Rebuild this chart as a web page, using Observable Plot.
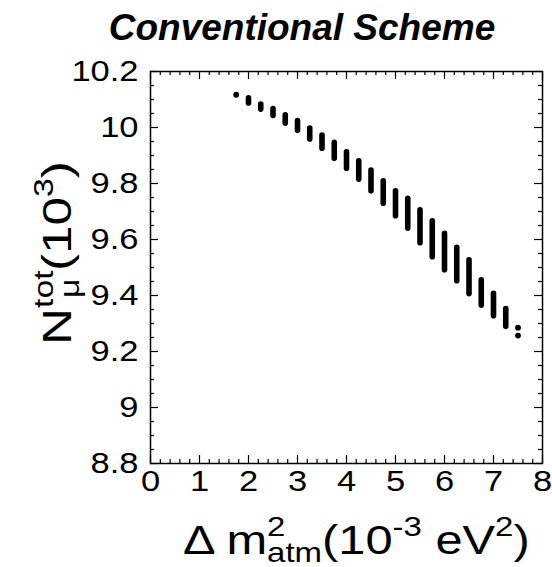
<!DOCTYPE html>
<html><head><meta charset="utf-8">
<script src="https://cdn.jsdelivr.net/npm/d3@7"></script>
<script src="https://cdn.jsdelivr.net/npm/@observablehq/plot@0.6"></script>
<style>html,body{margin:0;padding:0;background:#fff} svg{display:block}</style>
</head><body><div id="chart"></div>
<script>
const titleText = "Conventional Scheme";
// columns of points: x, top value, bottom value
const colX    = [2.0, 2.25, 2.5, 2.75, 3.0, 3.25, 3.5, 3.75, 4.0, 4.25, 4.5, 4.75, 5.0, 5.25, 5.5, 5.75, 6.0, 6.25, 6.5, 6.75, 7.0, 7.25];
const colHigh = [10.104, 10.082, 10.066, 10.044, 10.023, 9.996, 9.971, 9.945, 9.911, 9.879, 9.846, 9.808, 9.772, 9.745, 9.704, 9.665, 9.620, 9.570, 9.526, 9.454, 9.406, 9.352];
const colLow  = [10.086, 10.064, 10.041, 10.014, 9.988, 9.957, 9.924, 9.888, 9.853, 9.814, 9.772, 9.728, 9.683, 9.639, 9.587, 9.537, 9.490, 9.451, 9.405, 9.364, 9.326, 9.288];
// isolated points
const ptX = [1.75, 7.5, 7.5];
const ptY = [10.117, 9.285, 9.257];
const xTicks = [0, 1, 2, 3, 4, 5, 6, 7, 8];
const yTicks = [8.8, 9, 9.2, 9.4, 9.6, 9.8, 10, 10.2];

const columns = colX.map((x, i) => ({x, hi: colHigh[i], lo: colLow[i]}));
const points = ptX.map((x, i) => ({x, y: ptY[i]}));
const xMinor = d3.ticks(0, 8, 40).filter(v => !xTicks.includes(v));
const yMinor = d3.ticks(8.8, 10.2, 28).filter(v => !yTicks.some(t => Math.abs(t - v) < 1e-9));

const W = 552, H = 567, mL = 150, mR = 10, mT = 71, mB = 104;
const FH = H - mT - mB, FW = W - mL - mR;
const maj = 8, mnr = 4;
const font = "'Liberation Sans', Arial, Helvetica, sans-serif";

const chart = Plot.plot({
  width: W, height: H,
  marginLeft: mL, marginRight: mR, marginTop: mT, marginBottom: mB,
  style: {fontFamily: font, fontSize: "30px", color: "black", background: "white"},
  x: {domain: [0, 8]},
  y: {domain: [8.8, 10.2]},
  marks: [
    Plot.ruleX(columns, {x: "x", y1: "lo", y2: "hi", stroke: "black", strokeWidth: 5.6, strokeLinecap: "round"}),
    Plot.dot(points, {x: "x", y: "y", r: 2.9, fill: "black", stroke: "none"}),
    // ticks inward on all four sides
    Plot.ruleX(xTicks, {insetTop: FH - maj, stroke: "black", strokeWidth: 1.2}),
    Plot.ruleX(xTicks, {insetBottom: FH - maj, stroke: "black", strokeWidth: 1.2}),
    Plot.ruleX(xMinor, {insetTop: FH - mnr, stroke: "black", strokeWidth: 1.2}),
    Plot.ruleX(xMinor, {insetBottom: FH - mnr, stroke: "black", strokeWidth: 1.2}),
    Plot.ruleY(yTicks, {insetRight: FW - maj, stroke: "black", strokeWidth: 1.2}),
    Plot.ruleY(yTicks, {insetLeft: FW - maj, stroke: "black", strokeWidth: 1.2}),
    Plot.ruleY(yMinor, {insetRight: FW - mnr, stroke: "black", strokeWidth: 1.2}),
    Plot.ruleY(yMinor, {insetLeft: FW - mnr, stroke: "black", strokeWidth: 1.2}),
    Plot.frame({stroke: "black", strokeWidth: 1.5}),
    Plot.axisX({ticks: xTicks, tickSize: 0, tickPadding: 6, label: null, fontSize: 30, tickFormat: d => String(d)}),
    Plot.axisY({ticks: yTicks, tickSize: 0, tickPadding: 12, label: null, fontSize: 30, tickFormat: d => String(+d.toFixed(2))})
  ]
});
document.getElementById("chart").appendChild(chart);

const svg = d3.select(chart);
// horizontal stretch of tick labels about their anchor
function stretch(sel, s) {
  sel.each(function() {
    const x = +this.getAttribute("x") || 0, y = +this.getAttribute("y") || 0;
    const t = this.getAttribute("transform") || "";
    this.setAttribute("transform", `${t} translate(${x},${y}) scale(${s},1) translate(${-x},${-y})`);
  });
}
stretch(svg.selectAll("g[aria-label='x-axis tick label'] text"), 1.15);
stretch(svg.selectAll("g[aria-label='y-axis tick label'] text"), 1.15);

// title
svg.append("text")
  .attr("x", 302).attr("y", 40)
  .attr("text-anchor", "middle")
  .attr("font-family", font).attr("font-size", 37)
  .attr("font-weight", "bold").attr("font-style", "italic")
  .attr("fill", "black")
  .text(titleText);

// x axis label
const xl = svg.append("text")
  .attr("transform", "translate(183,554) scale(1.22,1)")
  .attr("text-anchor", "start")
  .attr("font-family", font).attr("font-size", 40).attr("fill", "black")
  .style("white-space", "pre");
xl.append("tspan").text("\u0394 m");
xl.append("tspan").attr("font-size", 27).attr("dy", -18).text("2");
xl.append("tspan").attr("font-size", 27).attr("dx", -15).attr("dy", 26).text("atm");
xl.append("tspan").attr("font-size", 40).attr("dy", -8).text("(10");
xl.append("tspan").attr("font-size", 27).attr("dy", -18).text("-3");
xl.append("tspan").attr("font-size", 40).attr("dy", 18).text(" eV");
xl.append("tspan").attr("font-size", 27).attr("dy", -18).text("2");
xl.append("tspan").attr("font-size", 40).attr("dy", 18).text(")");

// y axis label
const yl = svg.append("text")
  .attr("transform", "translate(71,345) rotate(-90) scale(1.25,1)")
  .attr("text-anchor", "start")
  .attr("font-family", font).attr("font-size", 41).attr("fill", "black")
  .style("white-space", "pre");
yl.append("tspan").text("N");
yl.append("tspan").attr("font-size", 27).attr("dy", -18).text("tot");
yl.append("tspan").attr("font-size", 27).attr("dx", -22).attr("dy", 26).text("\u03bc");
yl.append("tspan").attr("font-size", 41).attr("dx", 6).attr("dy", -8).text("(10");
yl.append("tspan").attr("font-size", 27).attr("dy", -18).text("3");
yl.append("tspan").attr("font-size", 41).attr("dy", 18).text(")");
</script>
</body></html>
